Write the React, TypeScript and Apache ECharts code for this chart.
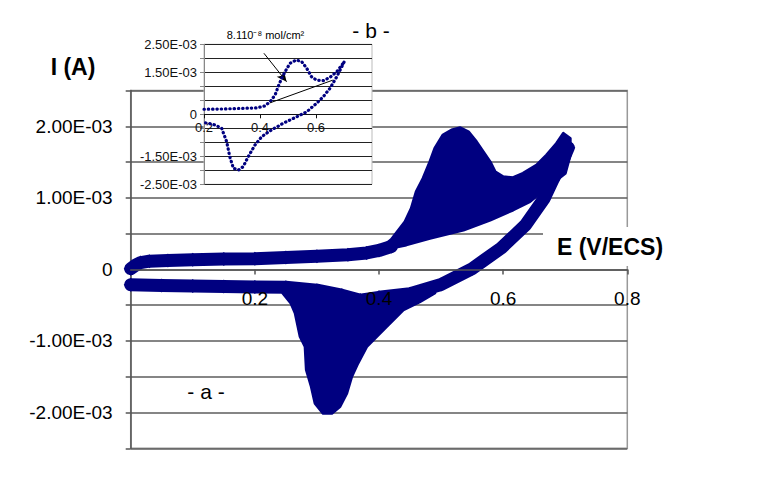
import React, { useEffect, useRef } from "react";
import * as echarts from "echarts";

// ---------- Main chart (a) — currents in units of 1E-03 A ----------
// forward (anodic) scan, baseline part
const mainForwardE = [0.0, 0.008, 0.016, 0.03, 0.06, 0.1, 0.15, 0.2, 0.25, 0.3, 0.35, 0.38, 0.4, 0.42];
const mainForwardI = [0.01, 0.06, 0.095, 0.115, 0.125, 0.135, 0.145, 0.15, 0.165, 0.185, 0.205, 0.23, 0.265, 0.32];

// return (cathodic) scan
const mainReturnE = [0.705, 0.695, 0.68, 0.666, 0.636, 0.597, 0.55, 0.5, 0.45, 0.4, 0.37, 0.34, 0.3, 0.25, 0.2, 0.15, 0.1, 0.05, 0.0];
const mainReturnI = [1.7, 1.5, 1.25, 0.99, 0.62, 0.3, 0.01, -0.21, -0.34, -0.39, -0.43, -0.36, -0.29, -0.25, -0.245, -0.24, -0.233, -0.225, -0.215];

// envelope of the overlapping anodic peaks
const anodicE = [0.4, 0.42, 0.442, 0.452, 0.46, 0.471, 0.482, 0.49, 0.503, 0.517, 0.531, 0.544, 0.557, 0.568, 0.579, 0.587, 0.6, 0.616, 0.632, 0.654, 0.67, 0.686, 0.697, 0.708, 0.708, 0.7, 0.662, 0.643, 0.616, 0.579, 0.536, 0.482, 0.444, 0.41];
const anodicI = [0.27, 0.42, 0.666, 0.853, 1.085, 1.272, 1.504, 1.691, 1.877, 1.947, 1.979, 1.923, 1.784, 1.644, 1.504, 1.365, 1.295, 1.281, 1.342, 1.458, 1.598, 1.761, 1.901, 1.831, 1.598, 1.342, 1.085, 0.946, 0.83, 0.69, 0.55, 0.434, 0.342, 0.28];

// envelope of the overlapping cathodic peaks
const cathodicE = [0.245, 0.258, 0.265, 0.273, 0.281, 0.283, 0.291, 0.297, 0.31, 0.324, 0.337, 0.348, 0.356, 0.366, 0.38, 0.396, 0.412, 0.439, 0.466, 0.49, 0.49, 0.45, 0.4, 0.37, 0.34, 0.3, 0.26];
const cathodicI = [-0.33, -0.47, -0.613, -0.94, -1.08, -1.405, -1.638, -1.87, -2.01, -2.01, -1.917, -1.73, -1.499, -1.311, -1.08, -0.94, -0.8, -0.567, -0.45, -0.33, -0.25, -0.34, -0.39, -0.43, -0.36, -0.29, -0.26];

// ---------- Inset (b) ----------
const insetForwardE = [0.2, 0.269, 0.329, 0.388, 0.418, 0.436, 0.454, 0.465, 0.477, 0.493, 0.507, 0.529, 0.549, 0.567, 0.584, 0.602, 0.626, 0.65, 0.674, 0.7];
const insetForwardI = [0.18, 0.19, 0.21, 0.23, 0.3, 0.45, 0.69, 0.99, 1.28, 1.58, 1.82, 1.94, 1.88, 1.64, 1.34, 1.22, 1.2, 1.32, 1.52, 1.86];
const insetReverseE = [0.7, 0.692, 0.674, 0.65, 0.626, 0.602, 0.567, 0.531, 0.483, 0.436, 0.406, 0.382, 0.358, 0.34, 0.323, 0.305, 0.292, 0.281, 0.263, 0.239, 0.215, 0.2];
const insetReverseI = [1.86, 1.7, 1.34, 0.93, 0.63, 0.39, 0.09, -0.09, -0.32, -0.59, -0.8, -1.1, -1.51, -1.87, -1.99, -1.93, -1.51, -0.98, -0.5, -0.38, -0.32, -0.3];
const insetBaselineE = [0.436, 0.66];
const insetBaselineI = [0.41, 1.22];
const insetArrowE = [0.414, 0.495];
const insetArrowI = [2.18, 1.164];

const mainXTicks = [0, 0.8, 0.2];
const mainYRange = [-2.5, 2.5, 0.5];
const insetXTicks = [0.2, 0.8, 0.2];

const NAVY = "#000080";
const FONT = "'Liberation Sans', Arial, sans-serif";

// plot-area layout (pixels)
const MAIN = { left: 130.7, top: 90.5, width: 496.6, height: 357.8 };
const INSET = { left: 204, top: 44.3, width: 168, height: 140 };
// offset that puts an x axis on the I = 0 line of its grid
const zeroOffset = (g: { height: number }) => -g.height * (mainYRange[0] / (mainYRange[0] - mainYRange[1]));

const pts = (es: number[], is: number[]) => es.map((e, i) => [e, is[i] * 1e-3]);

const fmtE = (v: number) => `${(v * 1000).toFixed(2)}E-03`;
const mainYLabel = (v: number) => {
  const k = Math.round(v * 1e4);
  if (k === 0) return "0";
  if (k % 10 !== 0) return "";
  return fmtE(v);
};
const insetYLabel = (v: number) => {
  const k = Math.round(v * 1e4);
  if (k === 0) return "0";
  if (Math.abs(k) === 25 || Math.abs(k) === 15) return fmtE(v);
  return "";
};

const polygonSeries = (es: number[], is: number[]) => ({
  type: "custom",
  xAxisIndex: 0,
  yAxisIndex: 0,
  z: 2,
  data: pts(es, is),
  renderItem: (params: any, api: any) => {
    if (params.dataIndex !== 0) return null;
    const points = es.map((e, i) => api.coord([e, is[i] * 1e-3]));
    return {
      type: "polygon",
      shape: { points },
      style: { fill: NAVY, stroke: NAVY, lineWidth: 3, lineJoin: "round" },
    };
  },
});

export default function App() {
  const ref = useRef<HTMLDivElement>(null);
  useEffect(() => {
    if (!ref.current) return;
    const chart = echarts.init(ref.current, null, { renderer: "svg" });
    const mainLine = (es: number[], is: number[]) => ({
      type: "line",
      xAxisIndex: 0,
      yAxisIndex: 0,
      z: 2,
      data: pts(es, is),
      symbol: "diamond",
      symbolSize: 14,
      showSymbol: true,
      itemStyle: { color: NAVY },
      lineStyle: { color: NAVY, width: 13, cap: "round", join: "round" },
    });
    const insetLine = (es: number[], is: number[]) => ({
      type: "line",
      xAxisIndex: 1,
      yAxisIndex: 1,
      z: 6,
      data: pts(es, is),
      showSymbol: false,
      lineStyle: { color: NAVY, width: 3.2, type: [0.4, 3.9], cap: "round" },
    });
    chart.setOption({
      animation: false,
      textStyle: { fontFamily: FONT },
      grid: [
        { ...MAIN, show: true, backgroundColor: "transparent", borderColor: "#999", borderWidth: 1.5 },
        { ...INSET, show: true, backgroundColor: "#fff", borderColor: "#bbb", borderWidth: 1, z: 3 },
      ],
      xAxis: [
        {
          gridIndex: 0,
          type: "value",
          position: "bottom",
          offset: zeroOffset(MAIN),
          min: mainXTicks[0],
          max: mainXTicks[1],
          interval: mainXTicks[2],
          z: 3,
          axisLine: { onZero: false, lineStyle: { color: "#555", width: 1.5 } },
          axisTick: { show: true, length: 5, lineStyle: { color: "#555", width: 1.5 } },
          axisLabel: { showMinLabel: false, fontSize: 19, color: "#000", margin: 20, formatter: (v: number) => v.toFixed(1) },
          splitLine: { show: false },
        },
        {
          gridIndex: 1,
          type: "value",
          position: "bottom",
          offset: zeroOffset(INSET),
          min: insetXTicks[0],
          max: insetXTicks[1],
          interval: insetXTicks[2],
          z: 4,
          axisLine: { onZero: false, lineStyle: { color: "#111", width: 1 } },
          axisTick: { show: true, length: 4, lineStyle: { color: "#111" } },
          axisLabel: { showMaxLabel: false, fontSize: 13, color: "#111", margin: 7, formatter: (v: number) => v.toFixed(1) },
          splitLine: { show: false },
        },
      ],
      yAxis: [
        {
          gridIndex: 0,
          type: "value",
          min: mainYRange[0] * 1e-3,
          max: mainYRange[1] * 1e-3,
          interval: mainYRange[2] * 1e-3,
          axisLine: { show: true, onZero: false, lineStyle: { color: "#555", width: 1.5 } },
          axisTick: { show: true, length: 5, lineStyle: { color: "#555", width: 1.5 } },
          axisLabel: { formatter: mainYLabel, fontSize: 19, color: "#000", margin: 18 },
          splitLine: { show: true, lineStyle: { color: "#5c5c5c", width: 1.5 } },
        },
        {
          gridIndex: 1,
          type: "value",
          min: mainYRange[0] * 1e-3,
          max: mainYRange[1] * 1e-3,
          interval: mainYRange[2] * 1e-3,
          z: 4,
          axisLine: { show: true, onZero: false, lineStyle: { color: "#888", width: 1 } },
          axisTick: { show: true, length: 4, lineStyle: { color: "#888" } },
          axisLabel: { formatter: insetYLabel, fontSize: 13, color: "#111", margin: 7 },
          splitLine: { show: true, lineStyle: { color: "#222", width: 1 } },
        },
      ],
      series: [
        polygonSeries(anodicE, anodicI),
        polygonSeries(cathodicE, cathodicI),
        mainLine(mainForwardE, mainForwardI),
        mainLine(mainReturnE, mainReturnI),
        insetLine(insetForwardE, insetForwardI),
        insetLine(insetReverseE, insetReverseI),
        {
          type: "line",
          xAxisIndex: 1,
          yAxisIndex: 1,
          z: 6,
          data: pts(insetBaselineE, insetBaselineI),
          showSymbol: false,
          lineStyle: { color: "#000", width: 1 },
          markLine: {
            silent: true,
            symbol: ["none", "arrow"],
            symbolSize: [7, 10],
            label: { show: false },
            lineStyle: { color: "#000", width: 1, type: "solid" },
            data: [
              [
                { coord: [insetArrowE[0], insetArrowI[0] * 1e-3] },
                { coord: [insetArrowE[1], insetArrowI[1] * 1e-3] },
              ],
            ],
          },
        },
      ],
      graphic: [
        {
          type: "text",
          x: 73,
          y: 67,
          z: 100,
          style: { text: "I (A)", font: `bold 23px ${FONT}`, fill: "#000", align: "center", verticalAlign: "middle" },
        },
        { type: "rect", z: 99, shape: { x: 543, y: 227, width: 134, height: 39 }, style: { fill: "#fff" } },
        {
          type: "text",
          x: 610,
          y: 247,
          z: 100,
          style: { text: "E (V/ECS)", font: `bold 23px ${FONT}`, fill: "#000", align: "center", verticalAlign: "middle" },
        },
        {
          type: "text",
          x: 206,
          y: 391,
          z: 100,
          style: { text: "- a -", font: `21px ${FONT}`, fill: "#000", align: "center", verticalAlign: "middle" },
        },
        {
          type: "text",
          x: 371,
          y: 30,
          z: 100,
          style: { text: "- b -", font: `21px ${FONT}`, fill: "#000", align: "center", verticalAlign: "middle" },
        },
        {
          type: "text",
          x: 265.5,
          y: 35,
          z: 100,
          style: { text: "8.110⁻⁸ mol/cm²", font: `11px ${FONT}`, fill: "#000", align: "center", verticalAlign: "middle" },
        },
      ],
    });
    return () => chart.dispose();
  }, []);
  return <div ref={ref} style={{ position: "fixed", left: 0, top: 0, width: 757, height: 490, background: "#fff" }} />;
}
